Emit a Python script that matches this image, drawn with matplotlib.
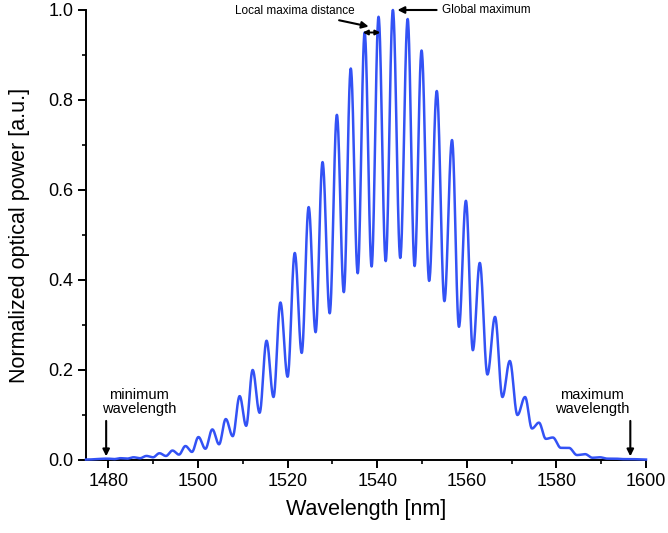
# -*- coding: utf-8 -*-

import matplotlib
matplotlib.use('Agg')

import numpy as np
import matplotlib.pyplot as plt
from matplotlib.ticker import MultipleLocator

plt.rcParams['font.family'] = ['Liberation Sans', 'DejaVu Sans']

# fringe maxima: wavelength [nm] and normalized power
peak_nm = [1479.8, 1482.7, 1485.6, 1488.5, 1491.4, 1494.3, 1497.2, 1500.1,
           1503.2, 1506.2, 1509.3, 1512.2, 1515.3, 1518.4, 1521.6, 1524.7,
           1527.8, 1531.0, 1534.1, 1537.2, 1540.3, 1543.5, 1546.8, 1549.9,
           1553.3, 1556.7, 1559.8, 1562.9, 1566.3, 1569.6, 1573.0, 1576.1,
           1579.2, 1582.8, 1586.4, 1589.7, 1593.1, 1596.4]
peak_val = [0.003, 0.004, 0.006, 0.009, 0.015, 0.021, 0.031, 0.051,
            0.068, 0.091, 0.142, 0.200, 0.265, 0.350, 0.460, 0.562,
            0.662, 0.767, 0.870, 0.950, 0.985, 1.000, 0.980, 0.910,
            0.820, 0.711, 0.576, 0.438, 0.318, 0.220, 0.140, 0.083,
            0.050, 0.027, 0.013, 0.006, 0.003, 0.002]
# minima between consecutive maxima
valley_val = [0.002, 0.003, 0.004, 0.006, 0.009, 0.012, 0.018, 0.025,
              0.035, 0.053, 0.076, 0.105, 0.140, 0.185, 0.238, 0.284,
              0.326, 0.373, 0.415, 0.430, 0.442, 0.449, 0.431, 0.398,
              0.353, 0.296, 0.244, 0.190, 0.140, 0.100, 0.070, 0.047,
              0.027, 0.011, 0.005, 0.003, 0.002]
edge_nm = [1475.0, 1600.0]
edge_val = [0.001, 0.001]

min_wl = 1479.5
max_wl = 1596.5

xticks = [1480, 1500, 1520, 1540, 1560, 1580, 1600]
yticks = [0.0, 0.2, 0.4, 0.6, 0.8, 1.0]

# chain of extrema, each half fringe drawn as a half cosine
ext_x = [edge_nm[0]]
ext_y = [edge_val[0]]
for i in range(len(peak_nm)):
    ext_x.append(peak_nm[i])
    ext_y.append(peak_val[i])
    if i < len(valley_val):
        ext_x.append((peak_nm[i] + peak_nm[i + 1]) / 2)
        ext_y.append(valley_val[i])
ext_x.append(edge_nm[1])
ext_y.append(edge_val[1])

wl, pw = [], []
s = np.linspace(0, 1, 30)
for a in range(len(ext_x) - 1):
    w = (1 - np.cos(np.pi * s)) / 2
    wl.extend(ext_x[a] + (ext_x[a + 1] - ext_x[a]) * s)
    pw.extend(ext_y[a] + (ext_y[a + 1] - ext_y[a]) * w)

fig = plt.figure(figsize=(6.68, 5.33), dpi=100)
ax = fig.add_axes([86 / 668, 73 / 533, 560 / 668, 450 / 533])

ax.plot(wl, pw, color='#3352f5', lw=1.8, zorder=3, clip_on=False)

ax.set_xlim(1475, 1600)
ax.set_ylim(0, 1.0)
ax.set_xticks(xticks)
ax.set_yticks(yticks)
ax.xaxis.set_minor_locator(MultipleLocator(10))
ax.yaxis.set_minor_locator(MultipleLocator(0.1))
ax.set_yticklabels(['%.1f' % v for v in yticks])

for side in ['top', 'right']:
    ax.spines[side].set_visible(False)
for side in ['left', 'bottom']:
    ax.spines[side].set_linewidth(1.4)
ax.tick_params(which='major', direction='out', length=6, width=1.4,
               labelsize=13, pad=3)
ax.tick_params(which='minor', direction='out', length=3, width=1.2)

ax.set_xlabel('Wavelength [nm]', fontsize=15.5, labelpad=7)
ax.set_ylabel('Normalized optical power [a.u.]', fontsize=15.5)
ax.yaxis.set_label_coords(-0.1, 0.5)

arr = dict(arrowstyle='-|>', color='black', lw=1.5, mutation_scale=10)

ax.annotate('minimum\nwavelength', xy=(min_wl, 0.0), xytext=(min_wl + 7.3, 0.097),
            ha='center', va='bottom', fontsize=10.5, linespacing=1.0)
ax.annotate('', xy=(min_wl, 0.002), xytext=(min_wl, 0.093), arrowprops=arr)
ax.annotate('maximum\nwavelength', xy=(max_wl, 0.0), xytext=(max_wl - 8.5, 0.097),
            ha='center', va='bottom', fontsize=10.5, linespacing=1.0)
ax.annotate('', xy=(max_wl, 0.002), xytext=(max_wl, 0.093), arrowprops=arr)

ax.annotate('Global maximum', xy=(1543.9, 1.0), xytext=(1554.5, 1.0),
            ha='left', va='center', fontsize=8.5, arrowprops=arr)
ax.annotate('Local maxima distance', xy=(1538.7, 0.962), xytext=(1535.0, 0.998),
            ha='right', va='center', fontsize=8.5, arrowprops=arr)
ax.annotate('', xy=(peak_nm[19] - 0.4, 0.95), xytext=(peak_nm[20] + 0.4, 0.95),
            arrowprops=dict(arrowstyle='<|-|>', color='black', lw=1.4,
                            mutation_scale=7, shrinkA=0, shrinkB=0))

fig.savefig('out.png', dpi=100)
